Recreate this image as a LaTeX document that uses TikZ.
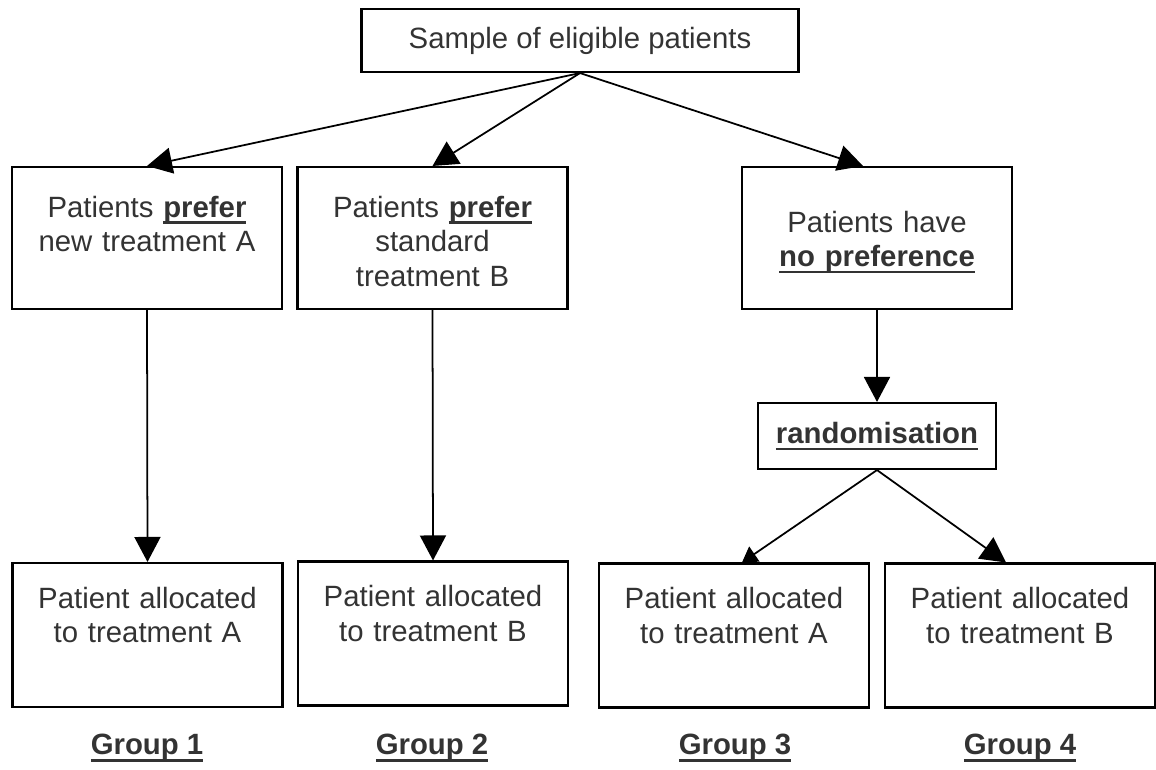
\documentclass[tikz,border=0pt]{standalone}
\usepackage{fontspec}
\setmainfont{Liberation Sans}
\usepackage{xcolor}
\usepackage{tikz}
\usetikzlibrary{arrows.meta}
\definecolor{txtgray}{HTML}{333333}
\definecolor{boxline}{HTML}{000000}

% bold word with a thick underline
\newsavebox{\ulbox}
\newcommand{\ulbf}[1]{\leavevmode\sbox{\ulbox}{\bfseries #1}\rlap{\usebox{\ulbox}}\rule[-3.8pt]{\wd\ulbox}{1.4pt}}

\begin{document}
\begin{tikzpicture}[x=0.02cm, y=-0.02cm,
    every node/.style={font=\fontsize{16.7}{19.8}\selectfont, text=txtgray},
    flowbox/.style={draw=boxline, line width=1.2pt, inner sep=0pt, text width=5.4cm, align=center},
    prefbox/.style={flowbox, text height=1.0cm, text depth=1.84cm},
    noprefbox/.style={flowbox, text height=1.3cm, text depth=1.54cm},
    allocbox/.style={flowbox, text height=0.9cm, text depth=1.98cm},
    topbox/.style={draw=boxline, line width=1.2pt, inner sep=0pt, minimum width=8.74cm, minimum height=1.26cm},
    randbox/.style={draw=boxline, line width=1.2pt, inner sep=0pt, minimum width=4.76cm, minimum height=1.32cm},
    grplabel/.style={inner sep=0pt},
    arr/.style={draw=black, line width=1pt, -{Triangle[length=0.5cm, width=0.52cm]}},
    arrsmall/.style={draw=black, line width=1pt, -{Triangle[length=0.3cm, width=0.36cm]}}
]
\useasboundingbox (0,0) rectangle (1156,769);

\node[topbox] (sample) at (580,40.5) {Sample of eligible patients};

\node[prefbox]   (prefA)  at (147,238)   {Patients \ulbf{prefer}\\new treatment A};
\node[prefbox]   (prefB)  at (432.5,238) {Patients \ulbf{prefer}\\standard\\treatment B};
\node[noprefbox] (nopref) at (877,238)   {Patients have\\\ulbf{no preference}};

\node[randbox] (rand) at (877,436) {\ulbf{randomisation}};

\node[allocbox] (grp1) at (147.5,635)  {Patient allocated\\to treatment A};
\node[allocbox] (grp2) at (433,633.5)  {Patient allocated\\to treatment B};
\node[allocbox] (grp3) at (734,635.5)  {Patient allocated\\to treatment A};
\node[allocbox] (grp4) at (1020,635.5) {Patient allocated\\to treatment B};

\node[grplabel] (lab1) at (147,748)  {\ulbf{Group 1}};
\node[grplabel] (lab2) at (432,748)  {\ulbf{Group 2}};
\node[grplabel] (lab3) at (735,748)  {\ulbf{Group 3}};
\node[grplabel] (lab4) at (1020,748) {\ulbf{Group 4}};

% connectors
\draw[arr] (sample.south) -- (prefA.north);
\draw[arr] (sample.south) -- (prefB.north);
\draw[arr] (sample.south) -- ([xshift=-0.28cm]nopref.north);
\draw[arr] (prefA.south) -- (grp1.north);
\draw[arr] (prefB.south) -- (grp2.north);
\draw[arr] (nopref.south) -- (rand.north);
\draw[arrsmall] (rand.south) -- ([xshift=0.16cm]grp3.north);
\draw[arr] (rand.south) -- ([xshift=-0.28cm]grp4.north);
\end{tikzpicture}
\end{document}
